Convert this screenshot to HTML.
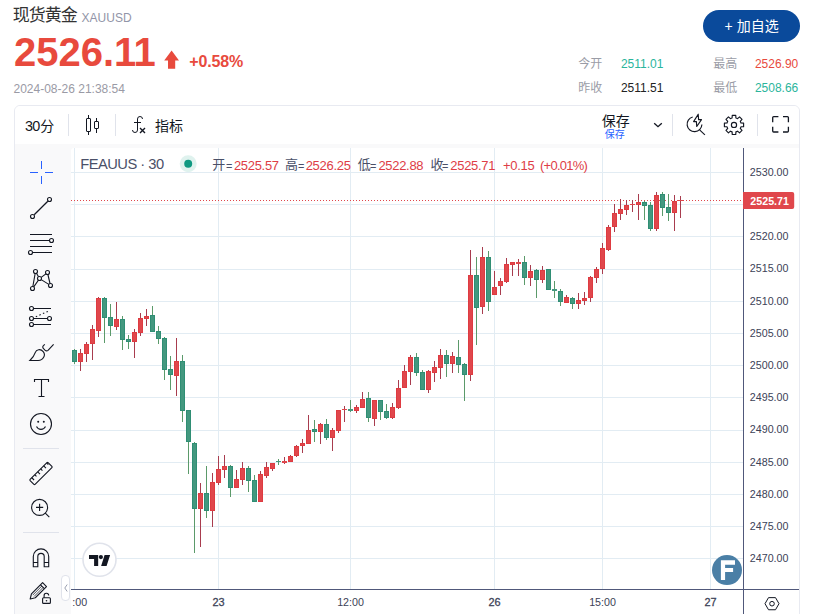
<!DOCTYPE html><html><head><meta charset="utf-8"><title>XAUUSD</title><style>html,body{margin:0;padding:0}body{width:815px;height:614px;position:relative;overflow:hidden;background:#fff;font-family:"Liberation Sans",sans-serif}.t{position:absolute;white-space:nowrap;line-height:1;display:block}.c{font-family:"Liberation Sans","Noto Sans CJK SC",sans-serif}</style></head><body><span class="t c" style="left:12.80px;top:7.40px;font-size:17px;color:#333;font-weight:400;letter-spacing:-1px;">现货黄金</span>
<span class="t" style="left:81.60px;top:11.54px;font-size:12px;color:#9295a8;font-weight:400;">XAUUSD</span>
<span class="t" style="left:14.00px;top:32.04px;font-size:40px;color:#e84a3d;font-weight:700;transform:scaleY(1.02);transform-origin:0 84.65%;">2526.</span>
<span class="t" style="left:114.10px;top:31.64px;font-size:40px;color:#e84a3d;font-weight:700;">1</span>
<span class="t" style="left:133.40px;top:31.64px;font-size:40px;color:#e84a3d;font-weight:700;">1</span>
<svg style="position:absolute;left:164px;top:50px" width="16" height="20" viewBox="0 0 16 20"><path d="M7.6 0.6 L15 10.4 L11.2 10.4 L11.2 18.8 L4 18.8 L4 10.4 L0.2 10.4 Z" fill="#e84a3d"/></svg>
<span class="t" style="left:189.30px;top:54.26px;font-size:16px;color:#e84a3d;font-weight:700;letter-spacing:-0.15px;">+0.58%</span>
<span class="t" style="left:13.50px;top:82.64px;font-size:12px;color:#9a9aa5;font-weight:400;">2024-08-26 21:38:54</span>
<div style="position:absolute;left:703px;top:10px;width:97px;height:32px;border-radius:16px;background:#0a4a9b"></div>
<span class="t" style="left:724.60px;top:19.35px;font-size:14px;color:#fff;font-weight:400;">+</span>
<span class="t c" style="left:736.70px;top:19.00px;font-size:14px;color:#fff;font-weight:400;">加自选</span>
<span class="t c" style="left:578.20px;top:57.60px;font-size:12px;color:#9a9ca6;font-weight:400;">今开</span>
<span class="t" style="left:620.90px;top:57.94px;font-size:12px;color:#2bb59c;font-weight:400;">2511.01</span>
<span class="t c" style="left:578.20px;top:82.00px;font-size:12px;color:#9a9ca6;font-weight:400;">昨收</span>
<span class="t" style="left:620.90px;top:82.44px;font-size:12px;color:#222;font-weight:400;">2511.51</span>
<span class="t c" style="left:713.30px;top:57.60px;font-size:12px;color:#9a9ca6;font-weight:400;">最高</span>
<span class="t" style="left:754.90px;top:57.94px;font-size:12px;color:#e84a3d;font-weight:400;">2526.90</span>
<span class="t c" style="left:713.30px;top:82.00px;font-size:12px;color:#9a9ca6;font-weight:400;">最低</span>
<span class="t" style="left:754.90px;top:82.44px;font-size:12px;color:#2bb59c;font-weight:400;">2508.66</span>
<div style="position:absolute;left:14px;top:105px;width:786px;height:530px;border:1px solid #e8eaf1;border-radius:6px;box-sizing:border-box;background:#f9f9fa;overflow:hidden"><div style="position:absolute;left:0;top:0;width:786px;height:38px;background:#fff"></div><div style="position:absolute;left:56px;top:42px;width:730px;height:500px;background:#fff;border-top-left-radius:3px"></div></div>
<span class="t" style="left:25.00px;top:118.81px;font-size:14.4px;color:#131722;font-weight:400;letter-spacing:-0.7px;">30</span>
<span class="t c" style="left:40.20px;top:118.90px;font-size:14px;color:#131722;font-weight:400;">分</span>
<div style="position:absolute;left:68px;top:114px;width:1px;height:22px;background:#e0e3eb"></div>
<div style="position:absolute;left:115px;top:114px;width:1px;height:22px;background:#e0e3eb"></div>
<div style="position:absolute;left:672px;top:114px;width:1px;height:22px;background:#e0e3eb"></div>
<div style="position:absolute;left:757px;top:114px;width:1px;height:22px;background:#e0e3eb"></div>
<svg style="position:absolute;left:78px;top:111px" width="28" height="28" viewBox="0 0 28 28" fill="none" stroke="#131722" stroke-width="1"><rect x="8.5" y="7.5" width="4" height="13" rx=".5"/><path d="M10.5 4v3.500M10.500 20.500V24"/><rect x="16.500" y="10.500" width="4" height="7" rx=".5"/><path d="M18.500 7v3.500M18.500 17.500V22"/></svg>
<svg style="position:absolute;left:125px;top:111px" width="28" height="28" viewBox="0 0 28 28" fill="none" stroke="#131722" stroke-width="1"><path d="M9 11.500h7M17.500 8a2.500 2.500 0 0 0-5 0v11a2.500 2.500 0 0 1-5 0"/><path d="M20 17l-5 5M15 17l5 5" stroke-width="1.400"/></svg>
<span class="t c" style="left:155.10px;top:118.70px;font-size:14px;color:#131722;font-weight:400;">指标</span>
<span class="t c" style="left:601.80px;top:114.20px;font-size:14px;color:#131722;font-weight:400;">保存</span>
<span class="t c" style="left:604.80px;top:129.90px;font-size:10px;color:#2962ff;font-weight:400;">保存</span>
<svg style="position:absolute;left:652px;top:119px" width="12" height="12" viewBox="0 0 12 12" fill="none" stroke="#131722" stroke-width="1.350"><path d="M2.200 4.200l3.800 3.500 3.800-3.500"/></svg>
<svg style="position:absolute;left:682px;top:111px" width="28" height="28" viewBox="0 0 28 28" fill="none" stroke="#131722" stroke-width="1.150" stroke-linejoin="round"><path d="M10.700 6a7.400 7.400 0 1 0 9.200 7.400"/><path d="M17.600 18.900l5.300 4.900"/><path d="M16.200 3.200L11.600 10.600H14.400L14.750 15.500L19.500 8.600H16.600Z"/></svg>
<svg style="position:absolute;left:720px;top:111px" width="28" height="28" viewBox="0 0 28 28" fill="none" stroke="#131722" stroke-width="1.150" stroke-linejoin="round"><path d="M12.10 6.96L12.25 4.30L15.75 4.30L15.90 6.96A7.2 7.2 0 0 1 17.57 7.65L19.55 5.88L22.02 8.35L20.25 10.33A7.2 7.2 0 0 1 20.94 12.00L23.60 12.15L23.60 15.65L20.94 15.80A7.2 7.2 0 0 1 20.25 17.47L22.02 19.45L19.55 21.92L17.57 20.15A7.2 7.2 0 0 1 15.90 20.84L15.75 23.50L12.25 23.50L12.10 20.84A7.2 7.2 0 0 1 10.43 20.15L8.45 21.92L5.98 19.45L7.75 17.47A7.2 7.2 0 0 1 7.06 15.80L4.40 15.65L4.40 12.15L7.06 12.00A7.2 7.2 0 0 1 7.75 10.33L5.98 8.35L8.45 5.88L10.43 7.65A7.2 7.2 0 0 1 12.10 6.96Z"/><circle cx="14" cy="13.900" r="2.600"/></svg>
<svg style="position:absolute;left:766px;top:110px" width="28" height="28" viewBox="0 0 28 28" fill="none" stroke="#131722" stroke-width="1.300"><path d="M6.700 12.300V7.600a1 1 0 0 1 1-1H12.400M17 6.600h4.400a1 1 0 0 1 1 1V12.300M22.400 16.800V21a1 1 0 0 1-1 1H17M12.400 22H7.700a1 1 0 0 1-1-1V16.800"/></svg>
<svg style="position:absolute;left:27px;top:158px" width="28" height="28" viewBox="0 0 28 28" fill="#2962ff"><path d="M18 15h8v-1h-8zM14 18v8h1v-8zM14 3v8h1v-8zM3 15h8v-1h-8z"/></svg>
<svg style="position:absolute;left:27px;top:194px" width="28" height="28" viewBox="0 0 28 28" fill="none" stroke="#131722" stroke-width="1.120"><path d="M7.200 20.800L20.800 7.200" stroke-width="1.250"/><circle cx="22.500" cy="5.500" r="2"/><circle cx="5.500" cy="22.500" r="2"/></svg>
<svg style="position:absolute;left:27px;top:230px" width="28" height="28" viewBox="0 0 28 28" fill="none" stroke="#131722" stroke-width="1.120"><path d="M3 4.500h22M3 10.500h19.500M3 16.500h22M5.500 22.500H25"/><circle cx="24.500" cy="10.500" r="2"/><circle cx="3.500" cy="22.500" r="2"/></svg>
<svg style="position:absolute;left:27px;top:266px" width="28" height="28" viewBox="0 0 28 28" fill="none" stroke="#131722" stroke-width="1.120"><path d="M8.150 7.500L5.850 20.500M9.500 7.300l2 3.500M14.200 11.400l4.700-3.500M14.200 13.600l7.600 4.800M20.900 8.500l2.100 9M11.400 14.200l-4.700 6.700"/><circle cx="8.500" cy="5.500" r="2"/><circle cx="20.500" cy="6.500" r="2"/><circle cx="12.500" cy="12.500" r="2"/><circle cx="23.500" cy="19.500" r="2"/><circle cx="5.500" cy="22.500" r="2"/></svg>
<svg style="position:absolute;left:27px;top:302px" width="28" height="28" viewBox="0 0 28 28" fill="none" stroke="#131722" stroke-width="1.120"><path d="M7 6.500h17M7 16.500h13M7 22.500h17"/><path d="M8.800 14.800L22.400 8.700" stroke-dasharray="1.500 2.400"/><circle cx="4.500" cy="6.500" r="2"/><circle cx="4.500" cy="16.500" r="2"/><circle cx="22.500" cy="16.500" r="2"/><circle cx="4.500" cy="22.500" r="2"/></svg>
<svg style="position:absolute;left:27px;top:338px" width="28" height="28" viewBox="0 0 28 28" fill="none" stroke="#131722" stroke-width="1.120"><path d="M2.900 22.500c2.300-2.200 4.500-5.300 5.300-7.900 1.100-3.300 5.400-4.100 8-1 2.900 3.400 0 8.900-5 8.900z"/><path d="M17.800 6.400l-1.400 1.300c-.8.700-.8 2-.1 2.700l1.900 1.900c.8.800 2 .8 2.800 0l5.600-5.900"/></svg>
<svg style="position:absolute;left:27px;top:373px" width="28" height="28" viewBox="0 0 28 28" fill="none" stroke="#131722" stroke-width="1.120"><path d="M7.500 9V6.500h14V9M14.500 6.500v17M11.500 23.500h6"/></svg>
<svg style="position:absolute;left:27px;top:410px" width="28" height="28" viewBox="0 0 28 28" fill="none" stroke="#131722" stroke-width="1.120"><circle cx="14" cy="14" r="10.500"/><path d="M9.500 16.500a5 5 0 0 0 9 0"/><circle cx="11.200" cy="11.800" r="1" fill="#131722" stroke="none"/><circle cx="16.800" cy="11.800" r="1" fill="#131722" stroke="none"/></svg>
<svg style="position:absolute;left:27px;top:458.5px" width="28" height="28" viewBox="0 0 28 28" fill="none" stroke="#131722" stroke-width="1.120"><g transform="translate(14,14.500) rotate(-45)"><rect x="-12.700" y="-3.500" width="25.400" height="7" rx=".8"/><path d="M-9.5 -3.500v3.200M-5.3 -3.500v2.400M-1.1 -3.500v3.200M3.1 -3.500v2.400M7.3 -3.500v3.200M11.5 -3.500v2.400"/></g></svg>
<svg style="position:absolute;left:27px;top:494px" width="28" height="28" viewBox="0 0 28 28" fill="none" stroke="#131722" stroke-width="1.120"><circle cx="12.600" cy="13.400" r="8"/><path d="M12.600 9.800v7.200M9 13.400h7.200M18.300 19.200l4 4"/></svg>
<svg style="position:absolute;left:27px;top:542.5px" width="28" height="28" viewBox="0 0 28 28" fill="none" stroke="#131722" stroke-width="1.120"><path d="M6.300 23.800V13.600a7.700 7.700 0 0 1 15.400 0V23.800h-4.500V13.600a3.200 3.200 0 0 0-6.400 0V23.800zM6.300 19.500h4.500M17.200 19.500h4.500"/></svg>
<svg style="position:absolute;left:27px;top:578px" width="28" height="28" viewBox="0 0 28 28" fill="none" stroke="#131722" stroke-width="1.120"><g transform="translate(3.200,21) rotate(-45)"><path d="M0 0L4.500 -2.750H20.300V2.750H4.500Z" stroke-linejoin="round"/><path d="M4.500 -.95H17.300M4.500 .95H17.300" stroke-width=".7"/><path d="M17.300 -2.750V2.750"/></g><rect x="15.600" y="19.800" width="7.800" height="5.600" rx="1" fill="#f9f9fa"/><path d="M17.100 19.800v-2.100a2.300 2.300 0 0 1 4.600-.2"/><circle cx="19.500" cy="22.700" r=".8" fill="#131722" stroke="none"/></svg>
<div style="position:absolute;left:23px;top:448px;width:36px;height:1px;background:#e0e3eb"></div>
<div style="position:absolute;left:23px;top:532px;width:36px;height:1px;background:#e0e3eb"></div>
<div style="position:absolute;left:61px;top:575px;width:9px;height:26px;border:1px solid #e0e3eb;border-radius:4px;background:#fff;box-sizing:border-box"></div>
<svg style="position:absolute;left:62.500px;top:583px" width="6" height="10" viewBox="0 0 6 10" fill="none" stroke="#9aa0b0" stroke-width="1"><path d="M4.200 1.500L1.800 5l2.400 3.500"/></svg>
<svg style="position:absolute;left:0;top:0" width="815" height="614" viewBox="0 0 815 614" shape-rendering="crispEdges"><g shape-rendering="crispEdges"><rect x="71" y="558" width="672" height="1" fill="#e2ecf3"/><rect x="71" y="526" width="672" height="1" fill="#e2ecf3"/><rect x="71" y="494" width="672" height="1" fill="#e2ecf3"/><rect x="71" y="462" width="672" height="1" fill="#e2ecf3"/><rect x="71" y="430" width="672" height="1" fill="#e2ecf3"/><rect x="71" y="397" width="672" height="1" fill="#e2ecf3"/><rect x="71" y="365" width="672" height="1" fill="#e2ecf3"/><rect x="71" y="333" width="672" height="1" fill="#e2ecf3"/><rect x="71" y="301" width="672" height="1" fill="#e2ecf3"/><rect x="71" y="269" width="672" height="1" fill="#e2ecf3"/><rect x="71" y="236" width="672" height="1" fill="#e2ecf3"/><rect x="71" y="204" width="672" height="1" fill="#e2ecf3"/><rect x="71" y="172" width="672" height="1" fill="#e2ecf3"/><rect x="74" y="148" width="1" height="441" fill="#e2ecf3"/><rect x="218" y="148" width="1" height="441" fill="#e2ecf3"/><rect x="350" y="148" width="1" height="441" fill="#e2ecf3"/><rect x="494" y="148" width="1" height="441" fill="#e2ecf3"/><rect x="602" y="148" width="1" height="441" fill="#e2ecf3"/><rect x="710" y="148" width="1" height="441" fill="#e2ecf3"/><path d="M71 200.500H743" stroke="#e0474c" stroke-width="1" stroke-dasharray="1 2"/><rect x="74" y="349" width="1" height="15" fill="#5b9a6a"/><rect x="72" y="350" width="5" height="12" fill="#43987f"/><rect x="72.5" y="350.5" width="4" height="11" fill="none" stroke="#2f8e74" stroke-width="1"/><rect x="80" y="349" width="1" height="22" fill="#a83c4e"/><rect x="78" y="353" width="5" height="9" fill="#e0474c"/><rect x="78.5" y="353.5" width="4" height="8" fill="none" stroke="#de3b41" stroke-width="1"/><rect x="86" y="342" width="1" height="20" fill="#a83c4e"/><rect x="84" y="344" width="5" height="10" fill="#e0474c"/><rect x="84.5" y="344.5" width="4" height="9" fill="none" stroke="#de3b41" stroke-width="1"/><rect x="92" y="325" width="1" height="35" fill="#a83c4e"/><rect x="90" y="329" width="5" height="15" fill="#e0474c"/><rect x="90.5" y="329.5" width="4" height="14" fill="none" stroke="#de3b41" stroke-width="1"/><rect x="98" y="297" width="1" height="40" fill="#a83c4e"/><rect x="96" y="298" width="5" height="33" fill="#e0474c"/><rect x="96.5" y="298.5" width="4" height="32" fill="none" stroke="#de3b41" stroke-width="1"/><rect x="104" y="297" width="1" height="46" fill="#5b9a6a"/><rect x="102" y="298" width="5" height="20" fill="#43987f"/><rect x="102.5" y="298.5" width="4" height="19" fill="none" stroke="#2f8e74" stroke-width="1"/><rect x="110" y="304" width="1" height="32" fill="#5b9a6a"/><rect x="108" y="317" width="5" height="9" fill="#43987f"/><rect x="108.5" y="317.5" width="4" height="8" fill="none" stroke="#2f8e74" stroke-width="1"/><rect x="116" y="302" width="1" height="28" fill="#a83c4e"/><rect x="114" y="319" width="5" height="8" fill="#e0474c"/><rect x="114.5" y="319.5" width="4" height="7" fill="none" stroke="#de3b41" stroke-width="1"/><rect x="122" y="316" width="1" height="34" fill="#5b9a6a"/><rect x="120" y="319" width="5" height="21" fill="#43987f"/><rect x="120.5" y="319.5" width="4" height="20" fill="none" stroke="#2f8e74" stroke-width="1"/><rect x="128" y="335" width="1" height="14" fill="#5b9a6a"/><rect x="126" y="339" width="5" height="3" fill="#43987f"/><rect x="126.5" y="339.5" width="4" height="2" fill="none" stroke="#2f8e74" stroke-width="1"/><rect x="134" y="329" width="1" height="29" fill="#a83c4e"/><rect x="132" y="332" width="5" height="10" fill="#e0474c"/><rect x="132.5" y="332.5" width="4" height="9" fill="none" stroke="#de3b41" stroke-width="1"/><rect x="140" y="313" width="1" height="23" fill="#a83c4e"/><rect x="138" y="318" width="5" height="15" fill="#e0474c"/><rect x="138.5" y="318.5" width="4" height="14" fill="none" stroke="#de3b41" stroke-width="1"/><rect x="146" y="309" width="1" height="17" fill="#a83c4e"/><rect x="144" y="316" width="5" height="3" fill="#e0474c"/><rect x="144.5" y="316.5" width="4" height="2" fill="none" stroke="#de3b41" stroke-width="1"/><rect x="152" y="306" width="1" height="26" fill="#5b9a6a"/><rect x="150" y="315" width="5" height="17" fill="#43987f"/><rect x="150.5" y="315.5" width="4" height="16" fill="none" stroke="#2f8e74" stroke-width="1"/><rect x="158" y="326" width="1" height="18" fill="#5b9a6a"/><rect x="156" y="331" width="5" height="8" fill="#43987f"/><rect x="156.5" y="331.5" width="4" height="7" fill="none" stroke="#2f8e74" stroke-width="1"/><rect x="164" y="337" width="1" height="43" fill="#5b9a6a"/><rect x="162" y="338" width="5" height="32" fill="#43987f"/><rect x="162.5" y="338.5" width="4" height="31" fill="none" stroke="#2f8e74" stroke-width="1"/><rect x="170" y="356" width="1" height="34" fill="#5b9a6a"/><rect x="168" y="369" width="5" height="6" fill="#43987f"/><rect x="168.5" y="369.5" width="4" height="5" fill="none" stroke="#2f8e74" stroke-width="1"/><rect x="176" y="338" width="1" height="58" fill="#a83c4e"/><rect x="174" y="361" width="5" height="15" fill="#e0474c"/><rect x="174.5" y="361.5" width="4" height="14" fill="none" stroke="#de3b41" stroke-width="1"/><rect x="182" y="355" width="1" height="67" fill="#5b9a6a"/><rect x="180" y="361" width="5" height="50" fill="#43987f"/><rect x="180.5" y="361.5" width="4" height="49" fill="none" stroke="#2f8e74" stroke-width="1"/><rect x="188" y="410" width="1" height="64" fill="#5b9a6a"/><rect x="186" y="410" width="5" height="32" fill="#43987f"/><rect x="186.5" y="410.5" width="4" height="31" fill="none" stroke="#2f8e74" stroke-width="1"/><rect x="194" y="442" width="1" height="111" fill="#5b9a6a"/><rect x="192" y="443" width="5" height="66" fill="#43987f"/><rect x="192.5" y="443.5" width="4" height="65" fill="none" stroke="#2f8e74" stroke-width="1"/><rect x="200" y="483" width="1" height="64" fill="#a83c4e"/><rect x="198" y="493" width="5" height="16" fill="#e0474c"/><rect x="198.5" y="493.5" width="4" height="15" fill="none" stroke="#de3b41" stroke-width="1"/><rect x="206" y="466" width="1" height="52" fill="#5b9a6a"/><rect x="204" y="493" width="5" height="18" fill="#43987f"/><rect x="204.5" y="493.5" width="4" height="17" fill="none" stroke="#2f8e74" stroke-width="1"/><rect x="212" y="473" width="1" height="54" fill="#a83c4e"/><rect x="210" y="482" width="5" height="29" fill="#e0474c"/><rect x="210.5" y="482.5" width="4" height="28" fill="none" stroke="#de3b41" stroke-width="1"/><rect x="218" y="456" width="1" height="29" fill="#a83c4e"/><rect x="216" y="469" width="5" height="14" fill="#e0474c"/><rect x="216.5" y="469.5" width="4" height="13" fill="none" stroke="#de3b41" stroke-width="1"/><rect x="224" y="455" width="1" height="23" fill="#a83c4e"/><rect x="222" y="466" width="5" height="4" fill="#e0474c"/><rect x="222.5" y="466.5" width="4" height="3" fill="none" stroke="#de3b41" stroke-width="1"/><rect x="230" y="465" width="1" height="32" fill="#5b9a6a"/><rect x="228" y="466" width="5" height="22" fill="#43987f"/><rect x="228.5" y="466.5" width="4" height="21" fill="none" stroke="#2f8e74" stroke-width="1"/><rect x="236" y="470" width="1" height="18" fill="#a83c4e"/><rect x="234" y="479" width="5" height="9" fill="#e0474c"/><rect x="234.5" y="479.5" width="4" height="8" fill="none" stroke="#de3b41" stroke-width="1"/><rect x="242" y="462" width="1" height="23" fill="#a83c4e"/><rect x="240" y="468" width="5" height="12" fill="#e0474c"/><rect x="240.5" y="468.5" width="4" height="11" fill="none" stroke="#de3b41" stroke-width="1"/><rect x="248" y="466" width="1" height="26" fill="#5b9a6a"/><rect x="246" y="468" width="5" height="13" fill="#43987f"/><rect x="246.5" y="468.5" width="4" height="12" fill="none" stroke="#2f8e74" stroke-width="1"/><rect x="254" y="475" width="1" height="27" fill="#5b9a6a"/><rect x="252" y="480" width="5" height="22" fill="#43987f"/><rect x="252.5" y="480.5" width="4" height="21" fill="none" stroke="#2f8e74" stroke-width="1"/><rect x="260" y="471" width="1" height="31" fill="#a83c4e"/><rect x="258" y="474" width="5" height="28" fill="#e0474c"/><rect x="258.5" y="474.5" width="4" height="27" fill="none" stroke="#de3b41" stroke-width="1"/><rect x="266" y="462" width="1" height="16" fill="#a83c4e"/><rect x="264" y="467" width="5" height="9" fill="#e0474c"/><rect x="264.5" y="467.5" width="4" height="8" fill="none" stroke="#de3b41" stroke-width="1"/><rect x="272" y="463" width="1" height="8" fill="#a83c4e"/><rect x="270" y="463" width="5" height="6" fill="#e0474c"/><rect x="270.5" y="463.5" width="4" height="5" fill="none" stroke="#de3b41" stroke-width="1"/><rect x="278" y="459" width="1" height="6" fill="#5b9a6a"/><rect x="276" y="461" width="5" height="1" fill="#43987f"/><rect x="284" y="457" width="1" height="7" fill="#a83c4e"/><rect x="282" y="461" width="5" height="2" fill="#e0474c"/><rect x="290" y="455" width="1" height="7" fill="#a83c4e"/><rect x="288" y="456" width="5" height="6" fill="#e0474c"/><rect x="288.5" y="456.5" width="4" height="5" fill="none" stroke="#de3b41" stroke-width="1"/><rect x="296" y="445" width="1" height="12" fill="#a83c4e"/><rect x="294" y="446" width="5" height="10" fill="#e0474c"/><rect x="294.5" y="446.5" width="4" height="9" fill="none" stroke="#de3b41" stroke-width="1"/><rect x="302" y="439" width="1" height="14" fill="#a83c4e"/><rect x="300" y="443" width="5" height="3" fill="#e0474c"/><rect x="300.5" y="443.5" width="4" height="2" fill="none" stroke="#de3b41" stroke-width="1"/><rect x="308" y="415" width="1" height="29" fill="#a83c4e"/><rect x="306" y="430" width="5" height="14" fill="#e0474c"/><rect x="306.5" y="430.5" width="4" height="13" fill="none" stroke="#de3b41" stroke-width="1"/><rect x="314" y="420" width="1" height="22" fill="#5b9a6a"/><rect x="312" y="429" width="5" height="3" fill="#43987f"/><rect x="312.5" y="429.5" width="4" height="2" fill="none" stroke="#2f8e74" stroke-width="1"/><rect x="320" y="423" width="1" height="21" fill="#a83c4e"/><rect x="318" y="424" width="5" height="8" fill="#e0474c"/><rect x="318.5" y="424.5" width="4" height="7" fill="none" stroke="#de3b41" stroke-width="1"/><rect x="326" y="419" width="1" height="21" fill="#5b9a6a"/><rect x="324" y="424" width="5" height="14" fill="#43987f"/><rect x="324.5" y="424.5" width="4" height="13" fill="none" stroke="#2f8e74" stroke-width="1"/><rect x="332" y="428" width="1" height="23" fill="#a83c4e"/><rect x="330" y="430" width="5" height="8" fill="#e0474c"/><rect x="330.5" y="430.5" width="4" height="7" fill="none" stroke="#de3b41" stroke-width="1"/><rect x="338" y="410" width="1" height="23" fill="#a83c4e"/><rect x="336" y="410" width="5" height="21" fill="#e0474c"/><rect x="336.5" y="410.5" width="4" height="20" fill="none" stroke="#de3b41" stroke-width="1"/><rect x="344" y="406" width="1" height="16" fill="#a83c4e"/><rect x="342" y="409" width="5" height="1" fill="#e0474c"/><rect x="350" y="400" width="1" height="12" fill="#5b9a6a"/><rect x="348" y="409" width="5" height="2" fill="#43987f"/><rect x="356" y="405" width="1" height="8" fill="#a83c4e"/><rect x="354" y="407" width="5" height="4" fill="#e0474c"/><rect x="354.5" y="407.5" width="4" height="3" fill="none" stroke="#de3b41" stroke-width="1"/><rect x="362" y="392" width="1" height="16" fill="#a83c4e"/><rect x="360" y="399" width="5" height="9" fill="#e0474c"/><rect x="360.5" y="399.5" width="4" height="8" fill="none" stroke="#de3b41" stroke-width="1"/><rect x="368" y="392" width="1" height="30" fill="#5b9a6a"/><rect x="366" y="398" width="5" height="20" fill="#43987f"/><rect x="366.5" y="398.5" width="4" height="19" fill="none" stroke="#2f8e74" stroke-width="1"/><rect x="374" y="400" width="1" height="26" fill="#a83c4e"/><rect x="372" y="400" width="5" height="19" fill="#e0474c"/><rect x="372.5" y="400.5" width="4" height="18" fill="none" stroke="#de3b41" stroke-width="1"/><rect x="380" y="400" width="1" height="20" fill="#5b9a6a"/><rect x="378" y="400" width="5" height="12" fill="#43987f"/><rect x="378.5" y="400.5" width="4" height="11" fill="none" stroke="#2f8e74" stroke-width="1"/><rect x="386" y="404" width="1" height="15" fill="#5b9a6a"/><rect x="384" y="411" width="5" height="7" fill="#43987f"/><rect x="384.5" y="411.5" width="4" height="6" fill="none" stroke="#2f8e74" stroke-width="1"/><rect x="392" y="403" width="1" height="16" fill="#a83c4e"/><rect x="390" y="407" width="5" height="11" fill="#e0474c"/><rect x="390.5" y="407.5" width="4" height="10" fill="none" stroke="#de3b41" stroke-width="1"/><rect x="398" y="380" width="1" height="29" fill="#a83c4e"/><rect x="396" y="388" width="5" height="20" fill="#e0474c"/><rect x="396.5" y="388.5" width="4" height="19" fill="none" stroke="#de3b41" stroke-width="1"/><rect x="404" y="365" width="1" height="23" fill="#a83c4e"/><rect x="402" y="371" width="5" height="17" fill="#e0474c"/><rect x="402.5" y="371.5" width="4" height="16" fill="none" stroke="#de3b41" stroke-width="1"/><rect x="410" y="355" width="1" height="30" fill="#a83c4e"/><rect x="408" y="357" width="5" height="15" fill="#e0474c"/><rect x="408.5" y="357.5" width="4" height="14" fill="none" stroke="#de3b41" stroke-width="1"/><rect x="416" y="353" width="1" height="23" fill="#5b9a6a"/><rect x="414" y="357" width="5" height="16" fill="#43987f"/><rect x="414.5" y="357.5" width="4" height="15" fill="none" stroke="#2f8e74" stroke-width="1"/><rect x="422" y="370" width="1" height="20" fill="#5b9a6a"/><rect x="420" y="372" width="5" height="18" fill="#43987f"/><rect x="420.5" y="372.5" width="4" height="17" fill="none" stroke="#2f8e74" stroke-width="1"/><rect x="428" y="370" width="1" height="23" fill="#a83c4e"/><rect x="426" y="371" width="5" height="19" fill="#e0474c"/><rect x="426.5" y="371.5" width="4" height="18" fill="none" stroke="#de3b41" stroke-width="1"/><rect x="434" y="361" width="1" height="21" fill="#a83c4e"/><rect x="432" y="367" width="5" height="6" fill="#e0474c"/><rect x="432.5" y="367.5" width="4" height="5" fill="none" stroke="#de3b41" stroke-width="1"/><rect x="440" y="349" width="1" height="30" fill="#a83c4e"/><rect x="438" y="355" width="5" height="13" fill="#e0474c"/><rect x="438.5" y="355.5" width="4" height="12" fill="none" stroke="#de3b41" stroke-width="1"/><rect x="446" y="350" width="1" height="27" fill="#5b9a6a"/><rect x="444" y="355" width="5" height="9" fill="#43987f"/><rect x="444.5" y="355.5" width="4" height="8" fill="none" stroke="#2f8e74" stroke-width="1"/><rect x="452" y="352" width="1" height="21" fill="#a83c4e"/><rect x="450" y="356" width="5" height="8" fill="#e0474c"/><rect x="450.5" y="356.5" width="4" height="7" fill="none" stroke="#de3b41" stroke-width="1"/><rect x="458" y="340" width="1" height="33" fill="#5b9a6a"/><rect x="456" y="357" width="5" height="8" fill="#43987f"/><rect x="456.5" y="357.5" width="4" height="7" fill="none" stroke="#2f8e74" stroke-width="1"/><rect x="464" y="363" width="1" height="38" fill="#5b9a6a"/><rect x="462" y="364" width="5" height="11" fill="#43987f"/><rect x="462.5" y="364.5" width="4" height="10" fill="none" stroke="#2f8e74" stroke-width="1"/><rect x="470" y="250" width="1" height="131" fill="#a83c4e"/><rect x="468" y="275" width="5" height="100" fill="#e0474c"/><rect x="468.5" y="275.5" width="4" height="99" fill="none" stroke="#de3b41" stroke-width="1"/><rect x="476" y="257" width="1" height="88" fill="#5b9a6a"/><rect x="474" y="275" width="5" height="33" fill="#43987f"/><rect x="474.5" y="275.5" width="4" height="32" fill="none" stroke="#2f8e74" stroke-width="1"/><rect x="482" y="247" width="1" height="67" fill="#a83c4e"/><rect x="480" y="257" width="5" height="50" fill="#e0474c"/><rect x="480.5" y="257.5" width="4" height="49" fill="none" stroke="#de3b41" stroke-width="1"/><rect x="488" y="251" width="1" height="60" fill="#5b9a6a"/><rect x="486" y="257" width="5" height="45" fill="#43987f"/><rect x="486.5" y="257.5" width="4" height="44" fill="none" stroke="#2f8e74" stroke-width="1"/><rect x="494" y="271" width="1" height="24" fill="#a83c4e"/><rect x="492" y="287" width="5" height="8" fill="#e0474c"/><rect x="492.5" y="287.5" width="4" height="7" fill="none" stroke="#de3b41" stroke-width="1"/><rect x="500" y="278" width="1" height="17" fill="#a83c4e"/><rect x="498" y="281" width="5" height="5" fill="#e0474c"/><rect x="498.5" y="281.5" width="4" height="4" fill="none" stroke="#de3b41" stroke-width="1"/><rect x="506" y="258" width="1" height="25" fill="#a83c4e"/><rect x="504" y="264" width="5" height="18" fill="#e0474c"/><rect x="504.5" y="264.5" width="4" height="17" fill="none" stroke="#de3b41" stroke-width="1"/><rect x="512" y="262" width="1" height="14" fill="#a83c4e"/><rect x="510" y="262" width="5" height="3" fill="#e0474c"/><rect x="510.5" y="262.5" width="4" height="2" fill="none" stroke="#de3b41" stroke-width="1"/><rect x="518" y="259" width="1" height="17" fill="#a83c4e"/><rect x="516" y="262" width="5" height="2" fill="#e0474c"/><rect x="524" y="256" width="1" height="29" fill="#5b9a6a"/><rect x="522" y="262" width="5" height="16" fill="#43987f"/><rect x="522.5" y="262.5" width="4" height="15" fill="none" stroke="#2f8e74" stroke-width="1"/><rect x="530" y="265" width="1" height="21" fill="#a83c4e"/><rect x="528" y="271" width="5" height="7" fill="#e0474c"/><rect x="528.5" y="271.5" width="4" height="6" fill="none" stroke="#de3b41" stroke-width="1"/><rect x="536" y="269" width="1" height="29" fill="#5b9a6a"/><rect x="534" y="270" width="5" height="10" fill="#43987f"/><rect x="534.5" y="270.5" width="4" height="9" fill="none" stroke="#2f8e74" stroke-width="1"/><rect x="542" y="266" width="1" height="17" fill="#a83c4e"/><rect x="540" y="270" width="5" height="10" fill="#e0474c"/><rect x="540.5" y="270.5" width="4" height="9" fill="none" stroke="#de3b41" stroke-width="1"/><rect x="548" y="269" width="1" height="21" fill="#5b9a6a"/><rect x="546" y="269" width="5" height="21" fill="#43987f"/><rect x="546.5" y="269.5" width="4" height="20" fill="none" stroke="#2f8e74" stroke-width="1"/><rect x="554" y="281" width="1" height="17" fill="#5b9a6a"/><rect x="552" y="289" width="5" height="2" fill="#43987f"/><rect x="560" y="289" width="1" height="17" fill="#5b9a6a"/><rect x="558" y="291" width="5" height="11" fill="#43987f"/><rect x="558.5" y="291.5" width="4" height="10" fill="none" stroke="#2f8e74" stroke-width="1"/><rect x="566" y="295" width="1" height="8" fill="#a83c4e"/><rect x="564" y="297" width="5" height="6" fill="#e0474c"/><rect x="564.5" y="297.5" width="4" height="5" fill="none" stroke="#de3b41" stroke-width="1"/><rect x="572" y="297" width="1" height="12" fill="#5b9a6a"/><rect x="570" y="298" width="5" height="6" fill="#43987f"/><rect x="570.5" y="298.5" width="4" height="5" fill="none" stroke="#2f8e74" stroke-width="1"/><rect x="578" y="293" width="1" height="16" fill="#a83c4e"/><rect x="576" y="300" width="5" height="4" fill="#e0474c"/><rect x="576.5" y="300.5" width="4" height="3" fill="none" stroke="#de3b41" stroke-width="1"/><rect x="584" y="292" width="1" height="13" fill="#a83c4e"/><rect x="582" y="298" width="5" height="3" fill="#e0474c"/><rect x="582.5" y="298.5" width="4" height="2" fill="none" stroke="#de3b41" stroke-width="1"/><rect x="590" y="276" width="1" height="26" fill="#a83c4e"/><rect x="588" y="277" width="5" height="21" fill="#e0474c"/><rect x="588.5" y="277.5" width="4" height="20" fill="none" stroke="#de3b41" stroke-width="1"/><rect x="596" y="267" width="1" height="16" fill="#a83c4e"/><rect x="594" y="269" width="5" height="9" fill="#e0474c"/><rect x="594.5" y="269.5" width="4" height="8" fill="none" stroke="#de3b41" stroke-width="1"/><rect x="602" y="243" width="1" height="31" fill="#a83c4e"/><rect x="600" y="248" width="5" height="21" fill="#e0474c"/><rect x="600.5" y="248.5" width="4" height="20" fill="none" stroke="#de3b41" stroke-width="1"/><rect x="608" y="225" width="1" height="26" fill="#a83c4e"/><rect x="606" y="227" width="5" height="23" fill="#e0474c"/><rect x="606.5" y="227.5" width="4" height="22" fill="none" stroke="#de3b41" stroke-width="1"/><rect x="614" y="204" width="1" height="28" fill="#a83c4e"/><rect x="612" y="213" width="5" height="14" fill="#e0474c"/><rect x="612.5" y="213.5" width="4" height="13" fill="none" stroke="#de3b41" stroke-width="1"/><rect x="620" y="199" width="1" height="21" fill="#a83c4e"/><rect x="618" y="209" width="5" height="5" fill="#e0474c"/><rect x="618.5" y="209.5" width="4" height="4" fill="none" stroke="#de3b41" stroke-width="1"/><rect x="626" y="200" width="1" height="15" fill="#a83c4e"/><rect x="624" y="205" width="5" height="5" fill="#e0474c"/><rect x="624.5" y="205.5" width="4" height="4" fill="none" stroke="#de3b41" stroke-width="1"/><rect x="632" y="200" width="1" height="12" fill="#a83c4e"/><rect x="630" y="204" width="5" height="1" fill="#e0474c"/><rect x="638" y="194" width="1" height="26" fill="#a83c4e"/><rect x="636" y="202" width="5" height="3" fill="#e0474c"/><rect x="636.5" y="202.5" width="4" height="2" fill="none" stroke="#de3b41" stroke-width="1"/><rect x="644" y="201" width="1" height="19" fill="#5b9a6a"/><rect x="642" y="202" width="5" height="4" fill="#43987f"/><rect x="642.5" y="202.5" width="4" height="3" fill="none" stroke="#2f8e74" stroke-width="1"/><rect x="650" y="202" width="1" height="29" fill="#5b9a6a"/><rect x="648" y="205" width="5" height="24" fill="#43987f"/><rect x="648.5" y="205.5" width="4" height="23" fill="none" stroke="#2f8e74" stroke-width="1"/><rect x="656" y="192" width="1" height="39" fill="#a83c4e"/><rect x="654" y="195" width="5" height="34" fill="#e0474c"/><rect x="654.5" y="195.5" width="4" height="33" fill="none" stroke="#de3b41" stroke-width="1"/><rect x="662" y="192" width="1" height="24" fill="#5b9a6a"/><rect x="660" y="194" width="5" height="14" fill="#43987f"/><rect x="660.5" y="194.5" width="4" height="13" fill="none" stroke="#2f8e74" stroke-width="1"/><rect x="668" y="194" width="1" height="27" fill="#5b9a6a"/><rect x="666" y="207" width="5" height="6" fill="#43987f"/><rect x="666.5" y="207.5" width="4" height="5" fill="none" stroke="#2f8e74" stroke-width="1"/><rect x="674" y="195" width="1" height="36" fill="#a83c4e"/><rect x="672" y="201" width="5" height="12" fill="#e0474c"/><rect x="672.5" y="201.5" width="4" height="11" fill="none" stroke="#de3b41" stroke-width="1"/><rect x="680" y="196" width="1" height="22" fill="#a83c4e"/><rect x="678" y="200" width="5" height="1" fill="#e0474c"/><rect x="743" y="148" width="1" height="500" fill="#50587a"/><rect x="71" y="589" width="728" height="1" fill="#50587a"/></g><g shape-rendering="geometricPrecision"><circle cx="727" cy="570.100" r="15" fill="#4a7fa6"/><path d="M720.900 560.200h14.100v4.500h-9.900v3.200h8v4.200h-8v7.900h-4.200z" fill="#fff"/><circle cx="99.500" cy="559.800" r="16.500" fill="#fff" stroke="#e0e3eb" stroke-width="1.600"/><g transform="translate(89,552.550) scale(.6)" fill="#131722"><path d="M0 4h15.300v18.300h-6.800v-11.500H0zM26 4H35.200L29.300 22.300H20.200z"/><circle cx="19.800" cy="7.500" r="3.500"/></g><path d="M743 192h49.200a2 2 0 0 1 2 2v13a2 2 0 0 1-2 2H743z" fill="#e0474c"/><polygon points="779.00,603.70 775.50,609.76 768.50,609.76 765.00,603.70 768.50,597.64 775.50,597.64" fill="none" stroke="#131722" stroke-width="1"/><circle cx="772" cy="603.7" r="2.300" fill="none" stroke="#131722" stroke-width="1"/><circle cx="188.200" cy="163.700" r="8.500" fill="#dff2ee"/><circle cx="188.200" cy="163.700" r="4" fill="#0f9981"/></g></svg>
<span class="t" style="left:749.80px;top:553.04px;font-size:10.7px;color:#3c4257;font-weight:400;">2470.00</span>
<span class="t" style="left:749.80px;top:520.87px;font-size:10.7px;color:#3c4257;font-weight:400;">2475.00</span>
<span class="t" style="left:749.80px;top:488.69px;font-size:10.7px;color:#3c4257;font-weight:400;">2480.00</span>
<span class="t" style="left:749.80px;top:456.52px;font-size:10.7px;color:#3c4257;font-weight:400;">2485.00</span>
<span class="t" style="left:749.80px;top:424.34px;font-size:10.7px;color:#3c4257;font-weight:400;">2490.00</span>
<span class="t" style="left:749.80px;top:392.17px;font-size:10.7px;color:#3c4257;font-weight:400;">2495.00</span>
<span class="t" style="left:749.80px;top:359.99px;font-size:10.7px;color:#3c4257;font-weight:400;">2500.00</span>
<span class="t" style="left:749.80px;top:327.82px;font-size:10.7px;color:#3c4257;font-weight:400;">2505.00</span>
<span class="t" style="left:749.80px;top:295.64px;font-size:10.7px;color:#3c4257;font-weight:400;">2510.00</span>
<span class="t" style="left:749.80px;top:263.47px;font-size:10.7px;color:#3c4257;font-weight:400;">2515.00</span>
<span class="t" style="left:749.80px;top:231.29px;font-size:10.7px;color:#3c4257;font-weight:400;">2520.00</span>
<span class="t" style="left:749.80px;top:166.94px;font-size:10.7px;color:#3c4257;font-weight:400;">2530.00</span>
<span class="t" style="left:750.30px;top:195.54px;font-size:10.7px;color:#fff;font-weight:700;">2525.71</span>
<div style="position:absolute;left:71px;top:590px;width:672px;height:24px;overflow:hidden"><span class="t" style="left:1.30px;top:7.04px;font-size:10.7px;color:#3c4257;font-weight:400;">:00</span><span class="t" style="left:47.50px;width:200px;text-align:center;top:6.87px;font-size:10.9px;color:#3c4257;font-weight:400;-webkit-text-stroke:0.28px #3c4257;">23</span><span class="t" style="left:179.50px;width:200px;text-align:center;top:7.04px;font-size:10.7px;color:#3c4257;font-weight:400;">12:00</span><span class="t" style="left:323.50px;width:200px;text-align:center;top:6.87px;font-size:10.9px;color:#3c4257;font-weight:400;-webkit-text-stroke:0.28px #3c4257;">26</span><span class="t" style="left:431.50px;width:200px;text-align:center;top:7.04px;font-size:10.7px;color:#3c4257;font-weight:400;">15:00</span><span class="t" style="left:539.50px;width:200px;text-align:center;top:6.87px;font-size:10.9px;color:#3c4257;font-weight:400;-webkit-text-stroke:0.28px #3c4257;">27</span></div>
<span class="t" style="left:80.20px;top:157.46px;font-size:14.7px;color:#4a5068;font-weight:400;letter-spacing:-0.5px;">FEAUUS · 30</span>
<span class="t c" style="left:212.30px;top:158.30px;font-size:13px;color:#4a5068;font-weight:400;">开</span>
<span class="t" style="left:225.80px;top:158.90px;font-size:13px;color:#4a5068;font-weight:400;transform:scaleX(.84);transform-origin:0 0;">=</span>
<span class="t" style="left:233.90px;top:158.90px;font-size:13px;color:#de3d46;font-weight:400;letter-spacing:-0.3px;">2525.57</span>
<span class="t c" style="left:285.00px;top:158.30px;font-size:13px;color:#4a5068;font-weight:400;">高</span>
<span class="t" style="left:297.60px;top:158.90px;font-size:13px;color:#4a5068;font-weight:400;transform:scaleX(.84);transform-origin:0 0;">=</span>
<span class="t" style="left:305.70px;top:158.90px;font-size:13px;color:#de3d46;font-weight:400;letter-spacing:-0.3px;">2526.25</span>
<span class="t c" style="left:357.70px;top:158.30px;font-size:13px;color:#4a5068;font-weight:400;">低</span>
<span class="t" style="left:370.30px;top:158.90px;font-size:13px;color:#4a5068;font-weight:400;transform:scaleX(.84);transform-origin:0 0;">=</span>
<span class="t" style="left:378.40px;top:158.90px;font-size:13px;color:#de3d46;font-weight:400;letter-spacing:-0.3px;">2522.88</span>
<span class="t c" style="left:430.50px;top:158.30px;font-size:13px;color:#4a5068;font-weight:400;">收</span>
<span class="t" style="left:442.20px;top:158.90px;font-size:13px;color:#4a5068;font-weight:400;transform:scaleX(.84);transform-origin:0 0;">=</span>
<span class="t" style="left:450.30px;top:158.90px;font-size:13px;color:#de3d46;font-weight:400;letter-spacing:-0.3px;">2525.71</span>
<span class="t" style="left:503.00px;top:158.90px;font-size:13px;color:#de3d46;font-weight:400;letter-spacing:-0.3px;">+0.15</span>
<span class="t" style="left:540.00px;top:158.90px;font-size:13px;color:#de3d46;font-weight:400;letter-spacing:-0.75px;">(+0.01%)</span></body></html>
